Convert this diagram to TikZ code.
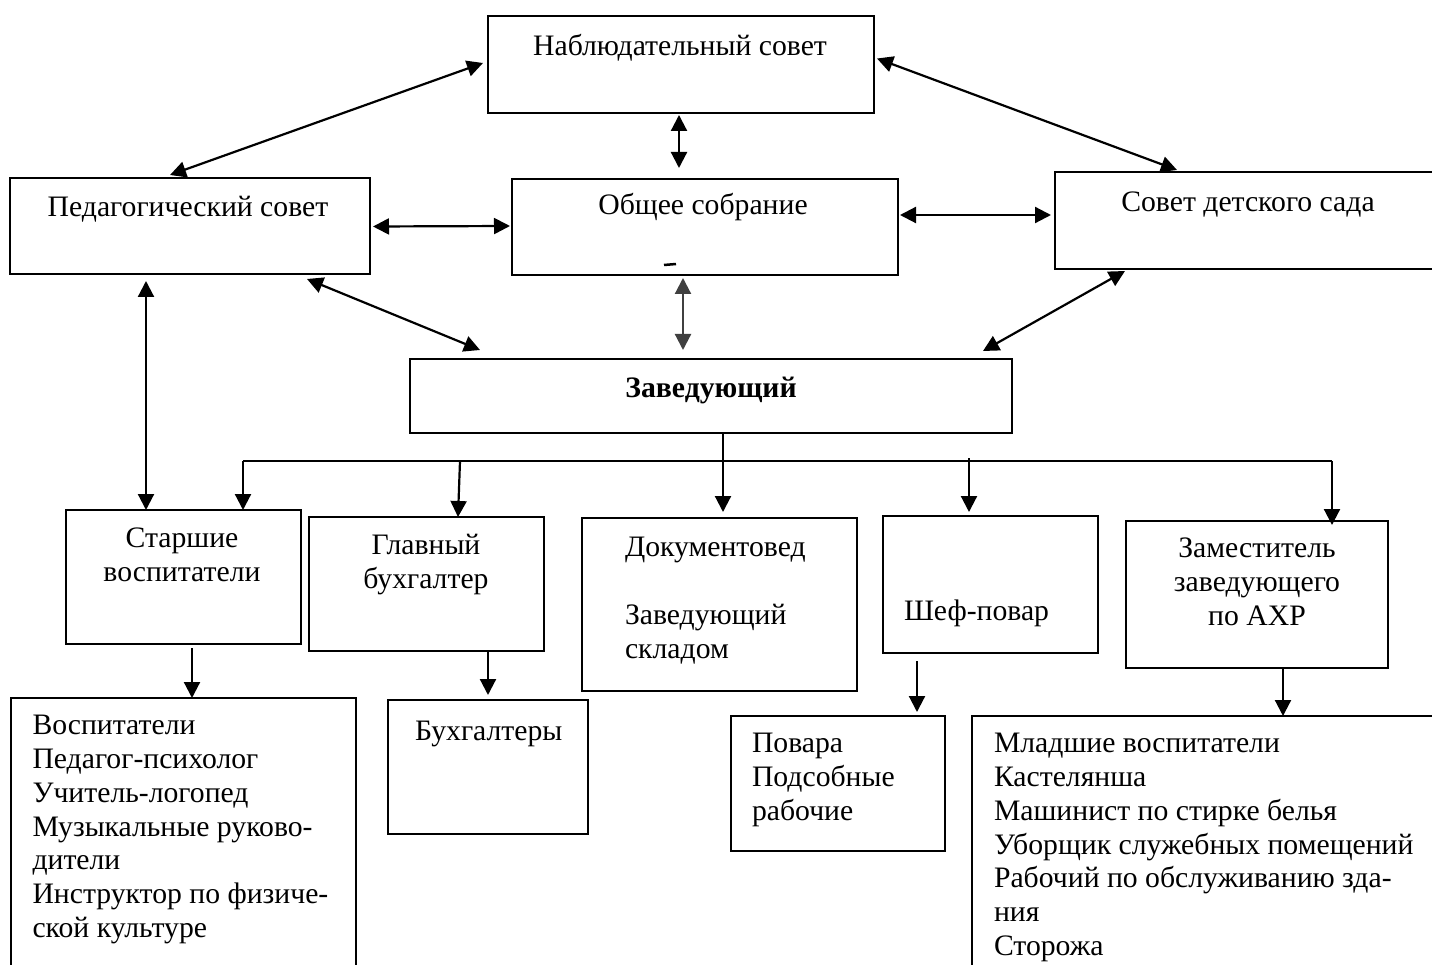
\documentclass[tikz,border=0pt]{standalone}
\usepackage{fontspec}
\setmainfont{Liberation Serif}
\usetikzlibrary{arrows.meta}
\begin{document}
\begin{tikzpicture}[x=1pt,y=-1pt,
  box/.style={draw, line width=1.8pt, inner sep=0pt, outer sep=0pt, anchor=north west},
  txt/.style={inner sep=0pt, outer sep=0pt, font=\fontsize{29.7}{33.7}\selectfont},
  biarrow/.style={line width=2.2pt, {Triangle[length=16pt,width=16pt]}-{Triangle[length=16pt,width=16pt]}},
  arr/.style={line width=2.2pt, -{Triangle[length=16pt,width=16pt]}},
  bus/.style={line width=2.2pt}]
\useasboundingbox (0,0) rectangle (1432,965);
\fill[white] (0,0) rectangle (1432,965);
\clip (0,0) rectangle (1432,965);

% boxes
\node[box, minimum width=386pt, minimum height=97pt] (nab) at (488,16) {};
\node[box, minimum width=360pt, minimum height=96pt] (ped) at (10,178) {};
\node[box, minimum width=386pt, minimum height=96pt] (obs) at (512,179) {};
\node[box, minimum width=400pt, minimum height=97pt] (sov) at (1055,172) {};
\node[box, minimum width=602pt, minimum height=74pt] (zav) at (410,359) {};
\node[box, minimum width=235pt, minimum height=134pt] (star) at (66,510) {};
\node[box, minimum width=235pt, minimum height=134pt] (glav) at (309,517) {};
\node[box, minimum width=275pt, minimum height=173pt] (doc) at (582,518) {};
\node[box, minimum width=215pt, minimum height=137pt] (shef) at (883,516) {};
\node[box, minimum width=262pt, minimum height=147pt] (zam) at (1126,521) {};
\node[box, minimum width=345pt, minimum height=290pt] (vosp) at (11,698) {};
\node[box, minimum width=200pt, minimum height=134pt] (buh) at (388,700) {};
\node[box, minimum width=214pt, minimum height=135pt] (pov) at (731,716) {};
\node[box, minimum width=480pt, minimum height=270pt] (mlad) at (972,716) {};

% texts
\node[txt, anchor=base] (tnab) at (680,56) {Наблюдательный совет};
\node[txt, anchor=base] (tped) at (188,217) {Педагогический совет};
\node[txt, anchor=base] (tobs) at (703,215) {Общее собрание};
\node[txt, anchor=base] (tsov) at (1248,212) {Совет детского сада};
\node[txt, anchor=base, font=\fontsize{29.7}{33.7}\selectfont\bfseries] (tzav) at (711,397) {Заведующий};
\node[txt, anchor=north, align=center] (tstar) at (182,524.4) {\strut Старшие\\воспитатели};
\node[txt, anchor=north, align=center] (tglav) at (426,531.4) {\strut Главный\\бухгалтер};
\node[txt, anchor=north west, align=left] (tdoc) at (625,533.4) {\strut Документовед\\\mbox{}\\Заведующий\\складом};
\node[txt, anchor=base west] (tshef) at (904,620) {Шеф-повар};
\node[txt, anchor=north, align=center] (tzam) at (1257,534.4) {\strut Заместитель\\заведующего\\по АХР};
\node[txt, anchor=north west, align=left] (tvosp) at (32.5,711.4) {\strut Воспитатели\\Педагог-психолог\\Учитель-логопед\\Музыкальные руково-\\дители\\Инструктор по физиче-\\ской культуре};
\node[txt, anchor=base west] (tbuh) at (415,740) {Бухгалтеры};
\node[txt, anchor=north west, align=left] (tpov) at (752,729.4) {\strut Повара\\Подсобные\\рабочие};
\node[txt, anchor=north west, align=left] (tmlad) at (994,729.4) {\strut Младшие воспитатели\\Кастелянша\\Машинист по стирке белья\\Уборщик служебных помещений\\Рабочий по обслуживанию зда-\\ния\\Сторожа};

% small dash in Общее собрание
\draw[line width=2.5pt] ([shift={(-41,-10)}]obs.south) -- ([shift={(-29,-11)}]obs.south);

% two-way connectors
\draw[biarrow] ([shift={(-5,-1.5)}]nab.west) -- ([shift={(-20,-3)}]ped.north);
\draw[biarrow] ([shift={(3,-6)}]nab.east) -- ([shift={(-78,-2)}]sov.north);
\draw[biarrow] ([shift={(-2,2)}]nab.south) -- ([shift={(-26,-11)}]obs.north);
\draw[biarrow] ([shift={(3,0.5)}]ped.east) -- ([shift={(-2,-1)}]obs.west);
\draw[biarrow] ([shift={(2,-12)}]obs.east) -- ([shift={(-4,-5.5)}]sov.west);
\draw[biarrow, color=black!75] ([shift={(-22,3)}]obs.south) -- ([shift={(-28,-9)}]zav.north);
\draw[biarrow] ([shift={(117,5)}]ped.south) -- ([shift={(70,-9)}]zav.north west);
\draw[biarrow] ([shift={(-130,2)}]sov.south) -- ([shift={(-29,-8)}]zav.north east);
\draw[biarrow] ([shift={(-44,7)}]ped.south) -- ([shift={(-37.5,0)}]star.north);

% distribution from Заведующий
\coordinate (busL) at (243,461);
\coordinate (busR) at (1332,461);
\coordinate (busG) at (460,461);
\coordinate (busS) at (969,458);
\draw[bus] (busL) -- (busR);
\draw[arr] ([xshift=12]zav.south) -- ([shift={(3.5,-6)}]doc.north);
\draw[arr] (busL) -- (busL |- star.north);
\draw[arr] (busG) -- ([shift={(31.5,0)}]glav.north);
\draw[arr] (busS) -- ([shift={(-21.5,-4)}]shef.north);
\draw[arr] (busR) -- ([yshift=-4]busR |- zam.north);

% to subordinates
\draw[arr] ([shift={(8.5,4)}]star.south) -- ([shift={(8.5,0)}]vosp.north);
\draw[arr] ([shift={(61.5,1)}]glav.south) -- ([shift={(0,-5)}]buh.north);
\draw[arr] ([shift={(-73.5,8)}]shef.south) -- ([shift={(79,-4)}]pov.north);
\draw[arr] ([shift={(26,0)}]zam.south) -- ([shift={(71,0)}]mlad.north);
\end{tikzpicture}
\end{document}
